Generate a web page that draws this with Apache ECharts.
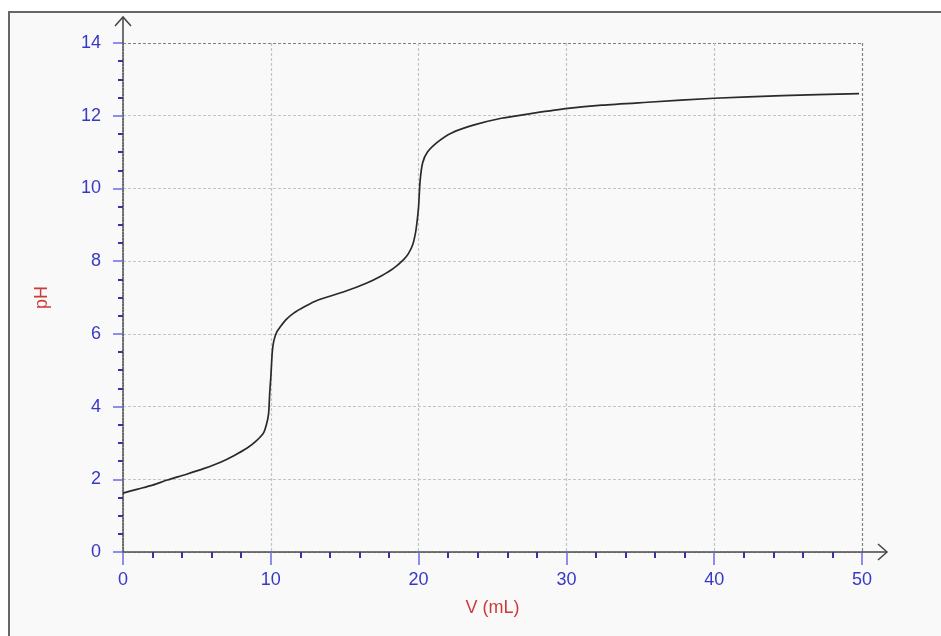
<!DOCTYPE html>
<html>
<head>
<meta charset="utf-8">
<script src="https://cdn.jsdelivr.net/npm/echarts@6/dist/echarts.min.js"></script>
<style>
  html, body { margin: 0; padding: 0; background: #fff; }
  #chart { width: 941px; height: 636px; }
</style>
</head>
<body>
<div id="chart"></div>
<script>
// titration curve
var volume = [0, 1, 2, 3, 4.3, 5.5, 6.6, 7.5, 8.4, 9, 9.5, 9.7, 9.85, 9.93, 10.0, 10.1, 10.2, 10.4, 10.65, 11, 11.55, 12.3, 13.2, 14.9, 16.5, 17.5, 18.3, 19, 19.3, 19.6, 19.8, 19.9, 20.0, 20.1, 20.27, 20.6, 21.3, 22.2, 23.7, 25.6, 27.8, 30.1, 32.4, 35.5, 40, 44.6, 49.8];
var pH = [1.62, 1.73, 1.84, 1.98, 2.14, 2.3, 2.47, 2.65, 2.86, 3.05, 3.27, 3.5, 3.8, 4.4, 4.8, 5.5, 5.8, 6.05, 6.2, 6.38, 6.57, 6.75, 6.93, 7.15, 7.4, 7.6, 7.8, 8.05, 8.2, 8.45, 8.8, 9.1, 9.5, 10.2, 10.7, 11.0, 11.28, 11.52, 11.74, 11.93, 12.07, 12.2, 12.29, 12.37, 12.48, 12.55, 12.61];
var xTicks = [0, 10, 20, 30, 40, 50];
var yTicks = [0, 2, 4, 6, 8, 10, 12, 14];

var blue = '#3838c8';
var red = '#cc3b3b';

var chart = echarts.init(document.getElementById('chart'));

function gridColors(n) {
  var arr = [];
  for (var i = 0; i < n; i++) arr.push(i === n - 1 ? '#808080' : '#c4c4c4');
  return arr;
}

var option = {
  animation: false,
  backgroundColor: '#fff',
  grid: { left: 123, right: 79, top: 43, bottom: 84, containLabel: false },
  xAxis: {
    type: 'value',
    min: xTicks[0], max: xTicks[xTicks.length - 1], interval: 10,
    name: 'V (mL)', nameLocation: 'middle', nameGap: 47,
    nameTextStyle: { color: red, fontSize: 18, fontFamily: 'Liberation Sans' },
    axisLine: { show: true, onZero: false, lineStyle: { color: '#444', width: 1.5, type: [2, 1] } },
    axisTick: { show: true, inside: false, length: 13, lineStyle: { color: '#6a6ae8', width: 1.5 } },
    minorTick: { show: true, splitNumber: 5, length: 6, lineStyle: { color: '#3535a0', width: 2 } },
    axisLabel: { color: blue, fontSize: 18, margin: 19, fontFamily: 'Liberation Sans' },
    splitLine: { show: true, lineStyle: { color: gridColors(xTicks.length), type: [3, 2], width: 1.2 } }
  },
  yAxis: {
    type: 'value',
    min: yTicks[0], max: yTicks[yTicks.length - 1], interval: 2,
    name: 'pH', nameLocation: 'middle', nameGap: 72, nameRotate: 90,
    nameTextStyle: { color: red, fontSize: 18, fontFamily: 'Liberation Sans' },
    axisLine: { show: true, onZero: false, lineStyle: { color: '#444', width: 1.5, type: [2, 1] } },
    axisTick: { show: true, inside: false, length: 10, lineStyle: { color: '#6a6ae8', width: 1.5 } },
    minorTick: { show: true, splitNumber: 4, length: 5, lineStyle: { color: '#3535a0', width: 2 } },
    axisLabel: { color: blue, fontSize: 18, margin: 22, fontFamily: 'Liberation Sans' },
    splitLine: { show: true, lineStyle: { color: gridColors(yTicks.length), type: [3, 2], width: 1.2 } }
  },
  series: [{
    type: 'line',
    data: volume.map(function (v, i) { return [v, pH[i]]; }),
    showSymbol: false,
    smooth: 0.25,
    lineStyle: { color: '#2a2a2a', width: 1.7 },
    z: 5
  }]
};
chart.setOption(option);

// frame and axis arrows, placed from the axes' own pixel positions
var o = chart.convertToPixel({ gridIndex: 0 }, [0, 0]);
var yEnd = chart.convertToPixel({ gridIndex: 0 }, [0, 14]);
var xEnd = chart.convertToPixel({ gridIndex: 0 }, [50, 0]);
var ay = yEnd[1] - 26, ax = xEnd[0] + 25;
var arrowStyle = { stroke: '#444', lineWidth: 1.5, fill: null };
chart.setOption({
  graphic: [
    { type: 'rect', z: -10, silent: true, shape: { x: 9, y: 12, width: 960, height: 660 },
      style: { fill: '#f9f9f9', stroke: '#666', lineWidth: 2 } },
    { type: 'polyline', z: 10, shape: { points: [[o[0], yEnd[1]], [o[0], ay]] }, style: arrowStyle },
    { type: 'polyline', z: 10, shape: { points: [[o[0] - 8, ay + 9], [o[0], ay], [o[0] + 8, ay + 9]] }, style: arrowStyle },
    { type: 'polyline', z: 10, shape: { points: [[xEnd[0], o[1]], [ax, o[1]]] }, style: arrowStyle },
    { type: 'polyline', z: 10, shape: { points: [[ax - 9, o[1] - 8], [ax, o[1]], [ax - 9, o[1] + 8]] }, style: arrowStyle }
  ]
});
</script>
</body>
</html>
